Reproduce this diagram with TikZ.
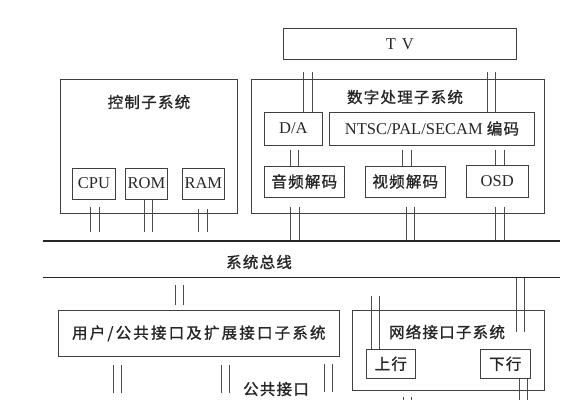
\documentclass[tikz,border=0pt]{standalone}
\usepackage{fontspec}
\setmainfont{Liberation Serif}
\newfontfamily\cjk{Noto Sans CJK SC}[LetterSpace=8, FakeBold=1.2]
\newcommand{\zh}{\cjk\fontsize{15.5}{16}\selectfont}
\newcommand{\en}{\fontsize{16.5}{18}\selectfont}

\tikzset{
	box/.style={draw=black!75, line width=0.8pt, inner sep=0pt},
	link/.style={draw=black!70, line width=0.9pt},
	busline/.style={draw=black!85, line width=1.4pt}
}

\begin{document}
\begin{tikzpicture}[x=1pt, y=-1pt, every node/.style={text=black!85}]
\useasboundingbox (0,0) rectangle (574,400);

% double links (two parallel strokes each)
\foreach \n/\x/\ya/\yb in {cpu/94.9/207/232, rom/148.2/199/232, ram/203/209/232,
	da/307.9/72/112, enc/491.2/72/112,
	aud/294.5/150/166, vid/407/150/166, osd/499.8/150/165,
	audbus/295/207/241, vidbus/410.3/207/241, osdbus/500/207/241,
	user/179.5/285/305, up/375.2/296/349, net/520.7/278/332,
	down/523.2/378/400, pub1/117.2/365/393, pub2/225.2/365/393,
	pub3/328.3/364/392, upout/407.2/397/400} {
	\coordinate (\n-a) at (\x,\ya);
	\coordinate (\n-b) at (\x,\yb);
	\draw[link] ([xshift=-4.2pt]\n-a) -- ([xshift=-4.2pt]\n-b);
	\draw[link] ([xshift=4.2pt]\n-a) -- ([xshift=4.2pt]\n-b);
}

% system bus
\coordinate (bus-tl) at (42.7,241);
\coordinate (bus-tr) at (560.3,241);
\coordinate (bus-bl) at (42.7,277.7);
\coordinate (bus-br) at (560.3,277.7);
\draw[busline] (bus-tl) -- (bus-tr);
\draw[busline] (bus-bl) -- (bus-br);
\node(bus)	at (259,262)	{\zh 系统总线};

% TV
\node(tv)	[box, minimum width=233, minimum height=31]	at (399.8,43.8)	{\en T\hspace{6pt}V};

% control subsystem
\node(ctrl)	[box, minimum width=176.3, minimum height=134]	at (148.8,146)	{};
\node(ctrl-t)	at (149,102)	{\zh 控制子系统};
\node(cpu)	[box, minimum width=42.6, minimum height=31]	at (94,183.5)	{\en CPU};
\node(rom)	[box, minimum width=42.4, minimum height=31]	at (146.5,183.5)	{\en ROM};
\node(ram)	[box, minimum width=42, minimum height=31]	at (203.3,183.5)	{\en RAM};

% digital processing subsystem
\node(dsp)	[box, minimum width=293.3, minimum height=134]	at (397.6,146)	{};
\node(dsp-t)	at (405,97)	{\zh 数字处理子系统};
\node(dac)	[box, minimum width=58, minimum height=33]	at (293.3,128.5)	{\en D/A};
\node(ntsc)	[box, minimum width=204.6, minimum height=33]	at (432,128.5)	{\en NTSC/PAL/SECAM {\zh 编码}};
\node(audio)	[box, minimum width=80, minimum height=31]	at (304.3,181.5)	{\zh 音频解码};
\node(video)	[box, minimum width=80, minimum height=31]	at (405.3,181.5)	{\zh 视频解码};
\node(osdbox)	[box, minimum width=62.3, minimum height=32]	at (497.2,181.5)	{\en OSD};

% user / public interface subsystem
\node(userbox)	[box, minimum width=281, minimum height=46.7]	at (198.8,333.4)	{\zh\addfontfeature{LetterSpace=14}用户/公共接口及扩展接口子系统};
\node(pub)	at (276,389)	{\zh 公共接口};

% network interface subsystem
\node(netbox)	[box, minimum width=191.6, minimum height=80.7]	at (448.5,350.4)	{};
\node(net-t)	at (447,332)	{\zh 网络接口子系统};
\node(upbox)	[box, minimum width=49, minimum height=29]	at (390.8,363.8)	{\zh 上行};
\node(downbox)	[box, minimum width=50, minimum height=29]	at (505.3,363.8)	{\zh 下行};

\end{tikzpicture}
\end{document}
